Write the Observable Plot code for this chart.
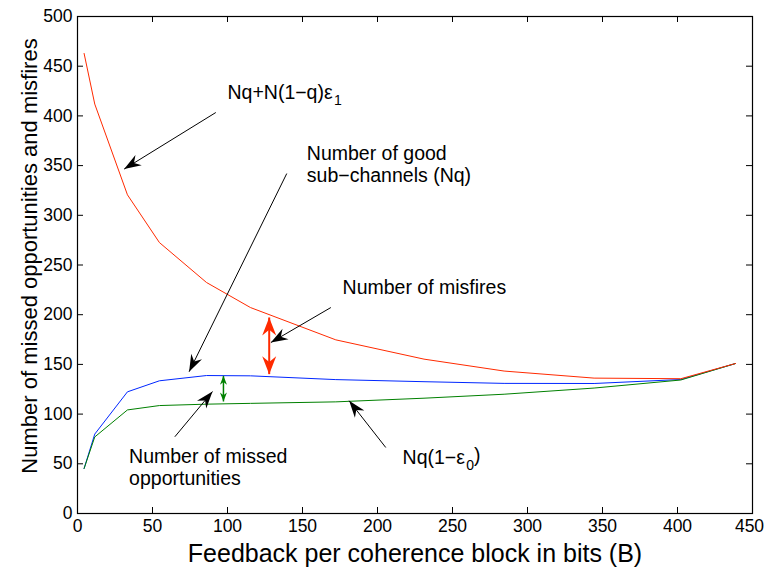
<!DOCTYPE html>
<html><head><meta charset="utf-8">
<script src="https://cdn.jsdelivr.net/npm/d3@7"></script>
<script src="https://cdn.jsdelivr.net/npm/@observablehq/plot@0.6"></script>
<style>body{margin:0;background:#fff}</style>
</head><body><div id="chart"></div>
<script>
// ---- data ----
const B        = [4.4, 11.5, 33.3, 54.6, 86, 115.3, 172.2, 231, 284.4, 344.4, 402.2, 438.7];
const upperNq  = [462.8, 411.9, 320.6, 272.6, 232.4, 207.2, 174.7, 155.3, 143.3, 136.2, 135.6, 150.9]; // Nq+N(1-q)e1
const goodNq   = [45.3, 79.9, 122.4, 133.5, 138.8, 138.5, 134.7, 132.6, 130.9, 130.8, 134.8, 150.9];   // Nq
const lowerNq  = [45.3, 77, 104.2, 108.6, 110, 110.8, 112.3, 116, 120, 126.2, 134.3, 150.9];          // Nq(1-e0)
const xTicks = [0, 50, 100, 150, 200, 250, 300, 350, 400, 450];
const yTicks = [0, 50, 100, 150, 200, 250, 300, 350, 400, 450, 500];

const arrows = [
  {x1: 92.2, y1: 403.4, x2: 31.1, y2: 346.5},
  {x1: 139.5, y1: 342, x2: 74.4, y2: 142.6},
  {x1: 168.9, y1: 207.2, x2: 128.9, y2: 172},
  {x1: 64.9, y1: 77.2, x2: 90, y2: 122.7},
  {x1: 205.5, y1: 66.4, x2: 181.1, y2: 113.4}
];
const misfireSpan = [{x: 127.8, y1: 140.2, y2: 197.2}];
const missedSpan  = [{x: 97.3, y1: 112.7, y2: 138.5}];
const labels = [
  {x: 100, y: 416.9, text: "Nq+N(1−q)ε₁"},
  {x: 152.9, y: 334, text: "Number of good\nsub−channels (Nq)"},
  {x: 176.7, y: 221.2, text: "Number of misfires"},
  {x: 34.4, y: 28.9, text: "Number of missed\nopportunities"},
  {x: 216.7, y: 49.7, text: "Nq(1−ε₀)"}
];
const xTitle = "Feedback per coherence block in bits (B)";
const yTitle = "Number of missed opportunities and misfires";

// ---- layout ----
const W = 764, H = 571, mL = 77, mR = 12, mT = 16, mB = 58;
const kx = (W - mL - mR) / 450, ky = (H - mT - mB) / 500;
const tick = 6; // inward tick length in pixels
const font = "'Liberation Sans', Arial, Helvetica, sans-serif";

const rows = (vals) => B.map((b, i) => ({B: b, v: vals[i]}));

function head(L, Wd) {
  return {draw(ctx) {
    ctx.moveTo(0, 0);
    ctx.lineTo(Wd / 2, L);
    ctx.lineTo(0, L * 0.68);
    ctx.lineTo(-Wd / 2, L);
    ctx.closePath();
  }};
}
const ang = (x1, y1, x2, y2) => Math.atan2((x2 - x1) * kx, (y2 - y1) * ky) * 180 / Math.PI;

const heads2 = (span) => span.flatMap(d => [
  {x: d.x, y: d.y2, a: 0},
  {x: d.x, y: d.y1, a: 180}
]);

const plot = Plot.plot({
  width: W, height: H,
  marginLeft: mL, marginRight: mR, marginTop: mT, marginBottom: mB,
  style: {fontFamily: font, background: "#fff", color: "#000"},
  x: {domain: [0, 450]},
  y: {domain: [0, 500]},
  marks: [
    Plot.axisX({anchor: "bottom", ticks: xTicks.slice(0, -1), tickSize: 0, tickPadding: 6, fontSize: 17.5, label: null}),
    Plot.axisX({anchor: "bottom", ticks: xTicks.slice(-1), tickSize: 0, tickPadding: 6, fontSize: 17.5, label: null, dx: -3}),
    Plot.axisY({anchor: "left", ticks: yTicks, tickSize: 0, tickPadding: 5, fontSize: 17.5, label: null}),
    // inward ticks on all four sides
    Plot.ruleX(xTicks, {x: d => d, y1: 0, y2: tick / ky, stroke: "#000", strokeWidth: 1}),
    Plot.ruleX(xTicks, {x: d => d, y1: 500 - tick / ky, y2: 500, stroke: "#000", strokeWidth: 1}),
    Plot.ruleY(yTicks, {y: d => d, x1: 0, x2: tick / kx, stroke: "#000", strokeWidth: 1}),
    Plot.ruleY(yTicks, {y: d => d, x1: 450 - tick / kx, x2: 450, stroke: "#000", strokeWidth: 1}),
    Plot.line(rows(goodNq), {x: "B", y: "v", stroke: "#0026ff", strokeWidth: 1}),
    Plot.line(rows(lowerNq), {x: "B", y: "v", stroke: "#008000", strokeWidth: 1}),
    Plot.line(rows(upperNq), {x: "B", y: "v", stroke: "#ff2a00", strokeWidth: 1}),
    // black annotation arrows
    Plot.link(arrows, {x1: "x1", y1: "y1", x2: "x2", y2: "y2", stroke: "#000", strokeWidth: 1}),
    Plot.dot(arrows, {x: "x2", y: "y2", r: 10, symbol: head(17, 12), fill: "#000", stroke: "none",
      rotate: d => ang(d.x1, d.y1, d.x2, d.y2)}),
    // red double arrow (misfires)
    Plot.link(misfireSpan, {x1: "x", x2: "x", y1: "y1", y2: "y2", stroke: "#ff2a00", strokeWidth: 2}),
    Plot.dot(heads2(misfireSpan), {x: "x", y: "y", r: 10, symbol: head(18, 14), fill: "#ff2a00", stroke: "none", rotate: "a"}),
    // green double arrow (missed opportunities)
    Plot.link(missedSpan, {x1: "x", x2: "x", y1: "y1", y2: "y2", stroke: "#008000", strokeWidth: 1.5}),
    Plot.dot(heads2(missedSpan), {x: "x", y: "y", r: 10, symbol: head(9, 7), fill: "#008000", stroke: "none", rotate: "a"}),
    // annotation texts
    Plot.text(labels, {x: "x", y: "y", text: "text", textAnchor: "start", lineAnchor: "bottom",
      fontSize: 19.5, lineHeight: 1.1, fill: "#000"}),
    // axis titles
    Plot.text([xTitle], {frameAnchor: "bottom", text: d => d, dy: 48, textAnchor: "middle", lineAnchor: "bottom", fontSize: 25, fill: "#000"}),
    Plot.text([yTitle], {frameAnchor: "left", text: d => d, rotate: -90, dx: -41, dy: -9, textAnchor: "middle", lineAnchor: "bottom", fontSize: 22, fill: "#000"}),
    Plot.frame({stroke: "#000", strokeWidth: 1.2})
  ]
});

// render subscripts (ε₁, ε₀) as lowered smaller text
d3.select(plot).selectAll("text").each(function() {
  const t = this.textContent;
  const m = t.match(/^(.*?)([₀₁])(.*)$/);
  if (!m || this.querySelector("tspan")) return;
  const sub = m[2] === "₀" ? "0" : "1";
  const el = d3.select(this);
  el.text(null);
  el.append("tspan").text(m[1]);
  el.append("tspan").attr("dy", "0.4em").attr("dx", "0.1em").attr("font-size", "0.72em").text(sub);
  if (m[3]) el.append("tspan").attr("dy", "-0.4em").text(m[3]);
});

document.getElementById("chart").append(plot);
</script>
</body></html>
